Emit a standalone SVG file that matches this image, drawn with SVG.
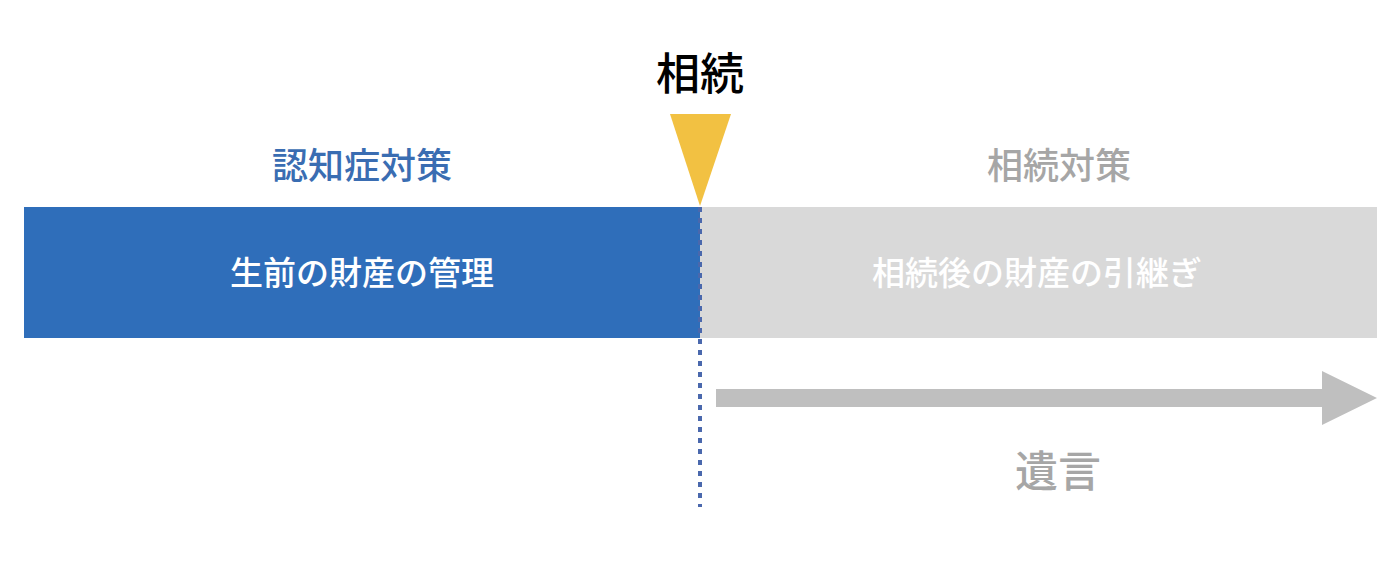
<svg xmlns="http://www.w3.org/2000/svg" width="1396" height="584" viewBox="0 0 1396 584">
<style>
text{font-family:"Noto Sans CJK JP","Noto Sans CJK SC",sans-serif;text-anchor:middle;dominant-baseline:central}
.w{fill:#ffffff;font-size:33px;font-weight:500}
.g{fill:#a6a6a6;font-weight:500}
</style>
<rect width="1396" height="584" fill="#ffffff"/>
<g id="before">
<rect x="24" y="207" width="676" height="131" fill="#2f6eba"/>
<text class="w" x="362" y="271">生前の財産の管理</text>
</g>
<g id="after">
<rect x="700" y="207" width="677" height="131" fill="#d9d9d9"/>
<text class="w" x="1037" y="271">相続後の財産の引継ぎ</text>
</g>
<g id="label-ninchi">
<text x="362" y="163" font-size="36" font-weight="500" fill="#3a6db2">認知症対策</text>
</g>
<g id="label-souzoku-taisaku">
<text class="g" x="1059" y="163" font-size="36">相続対策</text>
</g>
<g id="souzoku">
<text x="700" y="71" font-size="44" font-weight="500" fill="#000000">相続</text>
<polygon points="670,114 731,114 700,206" fill="#f2c142"/>
</g>
<g id="connectors">
<line x1="700" y1="207" x2="700" y2="507" stroke="#4a68ad" stroke-width="4" stroke-dasharray="5 6"/>
<polygon points="716,389 1322,389 1322,371 1377,398 1322,425 1322,407 716,407" fill="#bfbfbf"/>
</g>
<g id="yuigon">
<text class="g" x="1058" y="468" font-size="43">遺言</text>
</g>
</svg>
